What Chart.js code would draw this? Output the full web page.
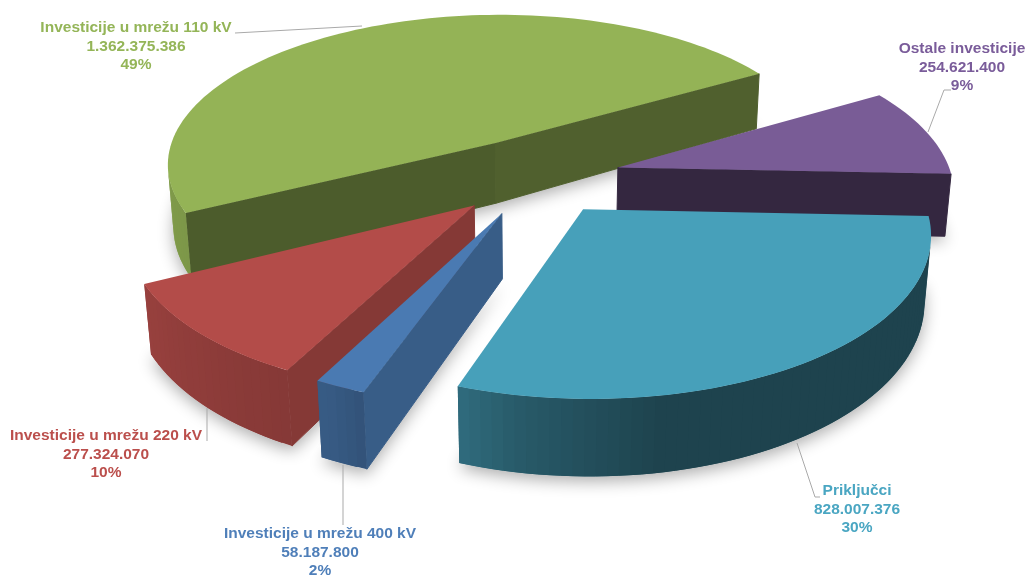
<!DOCTYPE html>
<html>
<head>
<meta charset="utf-8">
<style>
    html, body { margin: 0; padding: 0; background: #fff; }
    canvas { display: block; filter: blur(0.4px); }
</style>
<script src="https://cdn.jsdelivr.net/npm/chart.js@4"></script>
</head>
<body>
<canvas id="pie3d" width="1027" height="576"></canvas>
<script>
const categories = ['Investicije u mrežu 110 kV', 'Ostale investicije', 'Priključci', 'Investicije u mrežu 400 kV', 'Investicije u mrežu 220 kV'];
const values = [1362375386, 254621400, 828007376, 58187800, 277324070];
const topColors = ['#94b356', '#795c96', '#47a0ba', '#4a7ab2', '#b34c49'];
const labelColors = ['#94b558', '#7a5c9a', '#4aa6c2', '#4f7fb9', '#bb4f4c'];
const explodeBy = [0.26, 0.255, 0.245, 0.25, 0.255];

// where the text sits, not data
const labelCenters = [[136, 28], [962, 49], [857, 491], [320, 534], [106, 436]];
const leaders = [
    [[235, 33], [362, 26]],
    [[928, 132], [944, 90], [951, 90]],
    [[797, 443], [815, 497], [820, 497]],
    [[343, 465], [343, 525]],
    [[207, 408], [207, 441]]
];

// camera for the tilted pie
const view = { cx: 536, cy: 177, scale: 334, tilt: 27.5 * Math.PI / 180, dist: 6.5, depth: 0.215, depthGrow: 0.08 };

function project(X, Y, Z) {
    const s = Math.sin(view.tilt), c = Math.cos(view.tilt);
    const w = 1 - (Y * c + Z * s) / view.dist;
    return [view.cx + view.scale * X / w, view.cy + view.scale * (Y * s - Z * c) / w];
}

// the underside, a bit deeper towards the viewer as in the original
function projectLow(X, Y) {
    return project(X, Y, -view.depth * (1 + view.depthGrow * Y));
}

// how dark a side is, by the direction it faces (degrees, 90 = towards the viewer)
function lookup(table, deg) {
    deg = ((deg % 360) + 360) % 360;
    if (deg > 270) deg -= 360;
    if (deg <= table[0][0]) return table[0][1];
    for (let i = 1; i < table.length; i++) {
        if (deg <= table[i][0]) {
            const t = (deg - table[i - 1][0]) / (table[i][0] - table[i - 1][0]);
            return table[i - 1][1] + t * (table[i][1] - table[i - 1][1]);
        }
    }
    return table[table.length - 1][1];
}
const wallShade = [[60, 0.42], [80, 0.42], [100, 0.56], [115, 0.74], [150, 0.84], [180, 0.88]];
const cutShade = [[25, 0.76], [32, 0.71], [64, 0.51], [95, 0.42]];

function darken(hex, k) {
    const n = parseInt(hex.slice(1), 16);
    return 'rgb(' + Math.round((n >> 16) * k) + ',' + Math.round(((n >> 8) & 255) * k) + ',' + Math.round((n & 255) * k) + ')';
}

function poly(ctx, pts, color, edge) {
    ctx.beginPath();
    pts.forEach((p, i) => i ? ctx.lineTo(p[0], p[1]) : ctx.moveTo(p[0], p[1]));
    ctx.closePath();
    ctx.fillStyle = color;
    ctx.fill();
    if (edge) {
        ctx.strokeStyle = color;
        ctx.lineWidth = 1;
        ctx.stroke();
    }
}

function area(pts) {
    let a = 0;
    pts.forEach((p, i) => {
        const q = pts[(i + 1) % pts.length];
        a += p[0] * q[1] - q[0] * p[1];
    });
    return a / 2;
}

function sliceGeometry(arc, explode) {
    const mid = (arc.startAngle + arc.endAngle) / 2;
    const ox = explode * Math.cos(mid), oy = explode * Math.sin(mid);
    const rim = [];
    const steps = Math.max(4, Math.ceil((arc.endAngle - arc.startAngle) / 0.03));
    for (let i = 0; i <= steps; i++) {
        const a = arc.startAngle + (arc.endAngle - arc.startAngle) * i / steps;
        rim.push({ a: a, X: ox + Math.cos(a), Y: oy + Math.sin(a) });
    }
    return { mid: mid, ox: ox, oy: oy, rim: rim };
}

const pie3dPlugin = {
    id: 'pie3d',
    afterDatasetsDraw(chart) {
        const ctx = chart.ctx;
        const arcs = chart.getDatasetMeta(0).data.map((el, i) => {
            const g = sliceGeometry(el.getProps(['startAngle', 'endAngle']), explodeBy[i]);
            g.color = topColors[i];
            return g;
        });
        const order = arcs.slice().sort((a, b) => Math.sin(a.mid) - Math.sin(b.mid));

        // soft shadow on the paper first
        ctx.save();
        ctx.shadowColor = 'rgba(0,0,0,0.32)';
        ctx.shadowBlur = 16;
        ctx.shadowOffsetY = 5;
        order.forEach(g => {
            const pts = [projectLow(g.ox, g.oy)].concat(g.rim.map(r => projectLow(r.X, r.Y)));
            poly(ctx, pts, '#fff');
        });
        ctx.restore();

        order.forEach(g => {
            const first = g.rim[0], last = g.rim[g.rim.length - 1];

            // the two cut faces, skipped when they look away from us
            const startCut = [project(g.ox, g.oy, 0), projectLow(g.ox, g.oy), projectLow(first.X, first.Y), project(first.X, first.Y, 0)];
            const endCut = [project(last.X, last.Y, 0), projectLow(last.X, last.Y), projectLow(g.ox, g.oy), project(g.ox, g.oy, 0)];
            const startDeg = first.a * 180 / Math.PI - 90;
            const endDeg = last.a * 180 / Math.PI + 90;
            if (area(startCut) > 0) poly(ctx, startCut, darken(g.color, lookup(cutShade, startDeg)), true);
            if (area(endCut) > 0) poly(ctx, endCut, darken(g.color, lookup(cutShade, endDeg)), true);

            // rim wall, each strip runs under the next one so no seams show
            for (let i = 0; i < g.rim.length - 1; i++) {
                const r0 = g.rim[i], r1 = g.rim[i + 1], r2 = g.rim[Math.min(i + 2, g.rim.length - 1)];
                const quad = [project(r0.X, r0.Y, 0), projectLow(r0.X, r0.Y), projectLow(r1.X, r1.Y), project(r1.X, r1.Y, 0)];
                if (area(quad) > 0) {
                    const wide = [quad[0], quad[1], projectLow(r2.X, r2.Y), project(r2.X, r2.Y, 0)];
                    poly(ctx, wide, darken(g.color, lookup(wallShade, (r0.a + r1.a) * 90 / Math.PI)));
                }
            }

            // top
            poly(ctx, [project(g.ox, g.oy, 0)].concat(g.rim.map(r => project(r.X, r.Y, 0))), g.color);
        });

        // leader lines and labels
        ctx.strokeStyle = '#a9a9a9';
        ctx.lineWidth = 1;
        leaders.forEach(line => {
            ctx.beginPath();
            line.forEach((p, i) => i ? ctx.lineTo(p[0], p[1]) : ctx.moveTo(p[0], p[1]));
            ctx.stroke();
        });

        const total = values.reduce((a, b) => a + b, 0);
        ctx.font = 'bold 15.5px "Liberation Sans"';
        ctx.textAlign = 'center';
        ctx.textBaseline = 'middle';
        categories.forEach((name, i) => {
            const lines = [name, values[i].toLocaleString('de-DE'), Math.round(values[i] / total * 100) + '%'];
            ctx.fillStyle = labelColors[i];
            lines.forEach((text, j) => ctx.fillText(text, labelCenters[i][0], labelCenters[i][1] + j * 18.4));
        });
    }
};

document.addEventListener('DOMContentLoaded', function () {
    new Chart(document.getElementById('pie3d'), {
        type: 'pie',
        data: {
            labels: categories,
            datasets: [{ data: values, backgroundColor: 'rgba(0,0,0,0)', borderWidth: 0 }]
        },
        options: {
            responsive: false,
            animation: false,
            rotation: 243,
            plugins: { legend: { display: false }, tooltip: { enabled: false } }
        },
        plugins: [pie3dPlugin]
    });
});
</script>
</body>
</html>
